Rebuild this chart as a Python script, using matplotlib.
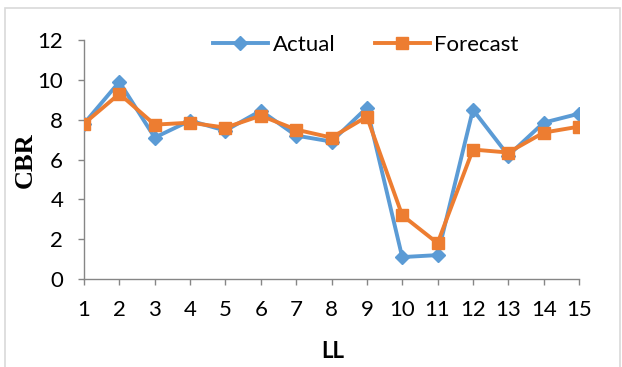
import matplotlib
matplotlib.use('Agg')
import matplotlib.pyplot as plt
from matplotlib.patches import Rectangle

# CBR values per LL sample
ll = list(range(1, 16))
actual = [7.8, 9.9, 7.1, 7.95, 7.45, 8.45, 7.2, 6.9, 8.6, 1.1, 1.2, 8.5, 6.2, 7.85, 8.3]
forecast = [7.8, 9.3, 7.75, 7.85, 7.6, 8.2, 7.5, 7.1, 8.15, 3.2, 1.8, 6.5, 6.35, 7.35, 7.65]
yticks = [0, 2, 4, 6, 8, 10, 12]

blue = '#5B9BD5'
orange = '#ED7D31'
axis_grey = '#868686'

plt.rcParams['font.family'] = ['Lato', 'DejaVu Sans']

W, H = 622, 367
fig = plt.figure(figsize=(W / 100, H / 100), dpi=100)
ax = fig.add_axes([84 / W, 1 - 279 / H, (579 - 84) / W, (279 - 40) / H])

# light chart-area border
fig.patches.append(Rectangle((5 / W, -0.05), 615 / W, 1.05 - 8 / H,
                             transform=fig.transFigure, fill=False,
                             edgecolor='#D9D9D9', linewidth=1.2))

ax.plot(ll, actual, color=blue, linewidth=2.8, marker='D', markersize=7.5,
        label='Actual', zorder=3)
ax.plot(ll, forecast, color=orange, linewidth=2.8, marker='s', markersize=9,
        label='Forecast', zorder=4)

ax.set_xlim(1, 15)
ax.set_ylim(0, 12)
ax.set_xticks(ll)
ax.set_yticks(yticks)
ax.tick_params(axis='both', labelsize=16, colors=axis_grey, labelcolor='black',
               length=4, width=1)
ax.tick_params(axis='x', pad=11)
ax.tick_params(axis='y', pad=11)
for side in ('top', 'right'):
    ax.spines[side].set_visible(False)
for side in ('left', 'bottom'):
    ax.spines[side].set_color(axis_grey)
    ax.spines[side].set_linewidth(1)

fig.text(25 / W, 1 - 160 / H, 'CBR', family='Liberation Serif', fontweight='bold',
         fontsize=19, rotation=90, ha='center', va='center')
fig.text(333 / W, 1 - 352 / H, 'LL', fontweight='bold', fontsize=16,
         ha='center', va='center')

fig.legend(loc='center', bbox_to_anchor=(366 / W, 1 - 45 / H), ncol=2,
           frameon=False, fontsize=16, handlelength=2.45, columnspacing=1.8,
           handletextpad=0.22, borderpad=0)

fig.savefig('out.png', dpi=100)
